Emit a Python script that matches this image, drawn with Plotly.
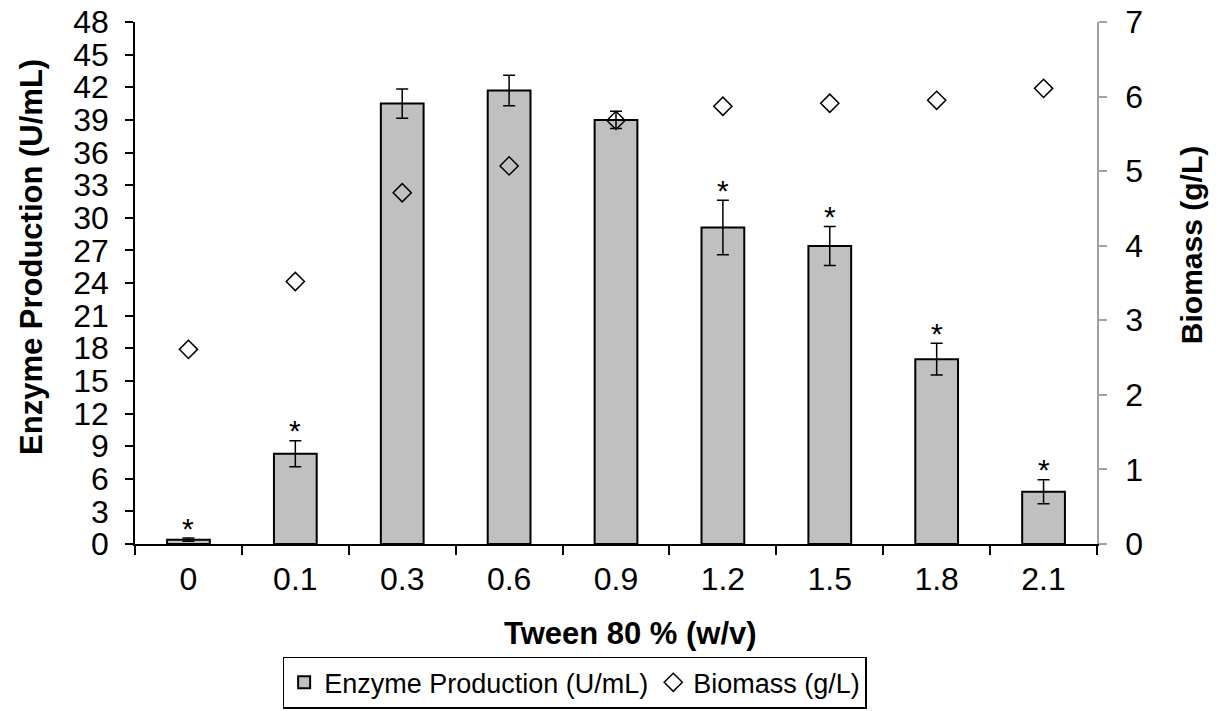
import plotly.graph_objects as go

categories = ["0", "0.1", "0.3", "0.6", "0.9", "1.2", "1.5", "1.8", "2.1"]
enzyme = [0.4, 8.3, 40.5, 41.7, 39.0, 29.1, 27.4, 17.0, 4.8]
enzyme_err = [0.15, 1.2, 1.35, 1.4, 0.8, 2.5, 1.8, 1.45, 1.1]
biomass = [2.61, 3.52, 4.71, 5.07, 5.68, 5.87, 5.91, 5.95, 6.11]
significant = [True, True, False, False, False, True, True, True, True]
left_ticks = list(range(0, 49, 3))
right_ticks = list(range(0, 8, 1))

FONT = "Liberation Sans, Arial, sans-serif"

fig = go.Figure()
fig.add_trace(go.Bar(
    x=categories, y=enzyme, name="Enzyme Production (U/mL)",
    width=0.4,
    marker=dict(color="#c0c0c0", line=dict(color="black", width=2)),
    error_y=dict(type="data", array=enzyme_err, visible=True,
                 color="black", thickness=1.5, width=6),
    yaxis="y",
))
fig.add_trace(go.Scatter(
    x=categories, y=biomass, name="Biomass (g/L)", mode="markers",
    marker=dict(symbol="diamond-open", size=14, color="black",
                line=dict(color="black", width=1.5)),
    yaxis="y2",
))

for i, (v, e, s) in enumerate(zip(enzyme, enzyme_err, significant)):
    if s:
        fig.add_annotation(x=i, y=v + e, xref="x", yref="y", text="*",
                           showarrow=False, yanchor="middle", yshift=10,
                           font=dict(size=30, color="black", family=FONT))

fig.add_annotation(text="<b>Enzyme Production (U/mL)</b>", xref="paper", yref="paper",
                   x=-0.107, y=0.55, textangle=-90, showarrow=False,
                   xanchor="center", yanchor="middle",
                   font=dict(size=31, color="black", family=FONT))
fig.add_annotation(text="<b>Biomass (g/L)</b>", xref="paper", yref="paper",
                   x=1.099, y=0.573, textangle=-90, showarrow=False,
                   xanchor="center", yanchor="middle",
                   font=dict(size=30, color="black", family=FONT))
fig.add_annotation(text="<b>Tween 80 % (w/v)</b>", xref="paper", yref="paper",
                   x=0.515, y=-0.172, showarrow=False,
                   xanchor="center", yanchor="middle",
                   font=dict(size=31, color="black", family=FONT))

fig.update_layout(
    width=1216, height=711,
    margin=dict(l=135, r=119, t=22, b=167, autoexpand=False),
    paper_bgcolor="white", plot_bgcolor="white",
    font=dict(family=FONT, size=30, color="black"),
    showlegend=True,
    legend=dict(orientation="h", x=0.457, xanchor="center", y=-0.216, yanchor="top",
                bordercolor="black", borderwidth=1.5, bgcolor="white",
                font=dict(size=27, color="black", family=FONT),
                itemwidth=30, tracegroupgap=0),
    bargap=0.6,
    xaxis=dict(type="category", range=[-0.5, 8.5], tickson="boundaries",
               ticks="outside", ticklen=9, tickcolor="black", tickwidth=1.5,
               showline=True, linecolor="black", linewidth=1.5,
               showgrid=False, zeroline=False, automargin=False,
               ticklabelstandoff=6,
               tickfont=dict(size=32, color="black", family=FONT)),
    yaxis=dict(range=[0, 48], tickvals=left_ticks, ticks="outside", ticklen=8,
               tickcolor="black", tickwidth=1.5, showline=True, linecolor="black",
               linewidth=1.5, showgrid=False, zeroline=False, automargin=False,
               ticklabelstandoff=10,
               tickfont=dict(size=32, color="black", family=FONT)),
    yaxis2=dict(range=[0, 7], tickvals=right_ticks, overlaying="y", side="right",
                ticks="outside", ticklen=8, tickcolor="#a0a0a0", tickwidth=1.5,
                showline=True, linecolor="#a0a0a0", linewidth=1.5,
                showgrid=False, zeroline=False, automargin=False,
                ticklabelstandoff=12,
                tickfont=dict(size=32, color="black", family=FONT)),
)

fig.write_html("out.html")
